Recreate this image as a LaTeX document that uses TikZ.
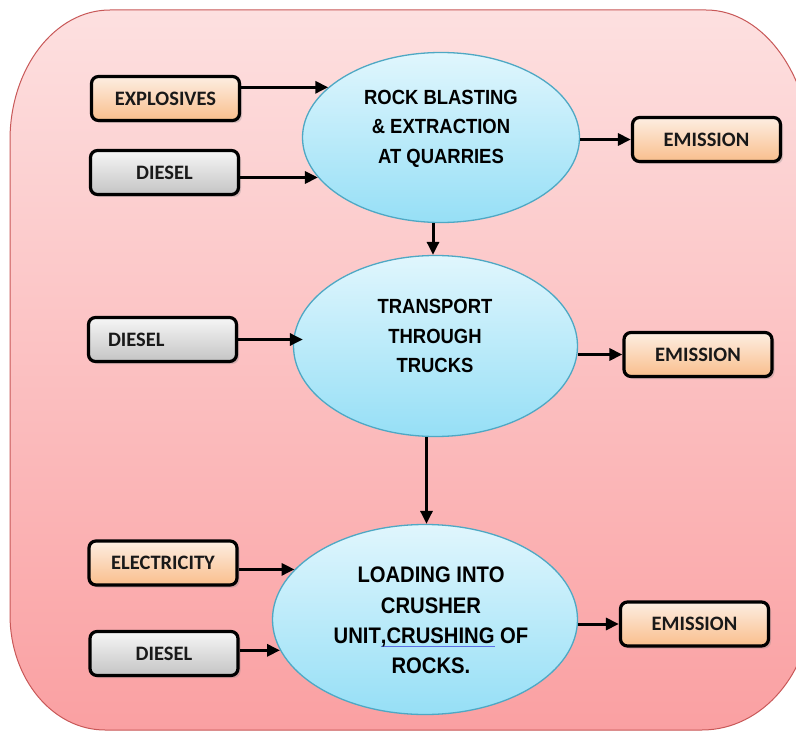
\documentclass[tikz,border=0pt]{standalone}
\usepackage{fontspec}
\usetikzlibrary{arrows.meta,shapes.geometric,shadows}
\newfontfamily\boxfont{Carlito}
\newfontfamily\ellfont[FakeStretch=0.9]{Liberation Sans}
\definecolor{bgtop}{RGB}{253,224,224}
\definecolor{bgbot}{RGB}{250,160,162}
\definecolor{bgborder}{RGB}{200,88,88}
\definecolor{elltop}{RGB}{224,246,253}
\definecolor{ellbot}{RGB}{150,223,246}
\definecolor{ellborder}{RGB}{78,168,196}
\definecolor{ortop}{RGB}{253,238,226}
\definecolor{orbot}{RGB}{249,190,140}
\definecolor{grtop}{RGB}{246,246,246}
\definecolor{grbot}{RGB}{196,196,196}
\definecolor{spellblue}{RGB}{90,110,230}
\newlength\spellw
\newcommand\spellmark[1]{\settowidth\spellw{#1}\rlap{\color{spellblue}\rule[-3.5pt]{\spellw}{0.8pt}}#1}
\begin{document}
\begin{tikzpicture}[x=1pt,y=-1pt,
  boxbase/.style={rectangle, rounded corners=7pt, draw=black, line width=3.2pt,
    minimum width=148pt, minimum height=44pt, inner sep=0pt,
    text=black!90, font=\boxfont\bfseries\fontsize{20.5}{24}\selectfont,
    drop shadow={shadow xshift=2.5pt, shadow yshift=-2.5pt, opacity=0.3}},
  obox/.style={boxbase, top color=ortop, bottom color=orbot},
  gbox/.style={boxbase, top color=grtop, bottom color=grbot},
  ell/.style={ellipse, draw=ellborder, line width=1.3pt, top color=elltop,
    bottom color=ellbot, inner sep=0pt},
  elltext/.style={align=center, inner sep=0pt, text=black},
  arr/.style={line width=3pt, -{Triangle[length=13pt,width=12pt]}}]
\path[use as bounding box] (0,0) rectangle (796,733);
\clip (0,0) rectangle (796,733);
% background
\path[draw=bgborder, line width=1pt, top color=bgtop, bottom color=bgbot]
  (10,140) .. controls (10,68.2) and (54.8,10) .. (110,10)
  -- (706,10) .. controls (764.5,10) and (812,77.2) .. (812,160)
  -- (812,600) .. controls (812,671.8) and (762.8,730) .. (702,730)
  -- (105,730) .. controls (52.5,730) and (10,678.5) .. (10,615) -- cycle;
% ellipses
\node[ell, minimum width=277pt, minimum height=170pt] (e1) at (441,137.5) {};
\node[ell, minimum width=284pt, minimum height=181pt] (e2) at (435.5,346) {};
\node[ell, minimum width=305pt, minimum height=190pt] (e3) at (425,619.5) {};
\node[elltext, font=\ellfont\bfseries\fontsize{20.5}{29.5}\selectfont] (t1) at (441,128.5)
  {ROCK BLASTING\\\& EXTRACTION\\AT QUARRIES};
\node[elltext, font=\ellfont\bfseries\fontsize{20.5}{29.5}\selectfont] (t2) at (435,336)
  {TRANSPORT\\THROUGH\\TRUCKS};
\node[elltext, font=\ellfont\bfseries\fontsize{22.5}{30.3}\selectfont] (t3) at (431,620.5)
  {LOADING INTO\\CRUSHER\\UNIT\spellmark{,CRUSHING} OF\\ROCKS.};
% boxes
\node[obox] (exp) at (165.5,98.5) {EXPLOSIVES};
\node[gbox] (d1) at (164.5,172.5) {DIESEL};
\node[obox] (em1) at (706.5,139.5) {EMISSION};
\node[gbox, text width=109pt, align=left, inner xsep=19.5pt] (d2) at (162.5,339.5) {DIESEL};
\node[obox] (em2) at (698,354.5) {EMISSION};
\node[obox] (el) at (163,563) {ELECTRICITY};
\node[gbox] (d3) at (164,653.5) {DIESEL};
\node[obox] (em3) at (694.5,624) {EMISSION};
% connectors
\draw[arr] (exp.east |- e1.156) -- (e1.156);
\draw[arr] (d1.east |- e1.198) -- (e1.198);
\draw[arr] (e1.east |- em1.west) -- (em1.west);
\draw[arr] ([xshift=-8pt]e1.south) -- ([xshift=-8pt]e1.south |- e2.north);
\draw[arr] (d2.east) -- ([xshift=10pt]e2.west |- d2.east);
\draw[arr] (e2.east |- em2.west) -- (em2.west);
\draw[arr] ([xshift=-9pt]e2.south) -- ([xshift=-9pt]e2.south |- e3.north);
\draw[arr] (el.east |- e3.159) -- (e3.159);
\draw[arr] (d3.east |- e3.192) -- (e3.192);
\draw[arr] (e3.east |- em3.west) -- (em3.west);
\end{tikzpicture}
\end{document}
